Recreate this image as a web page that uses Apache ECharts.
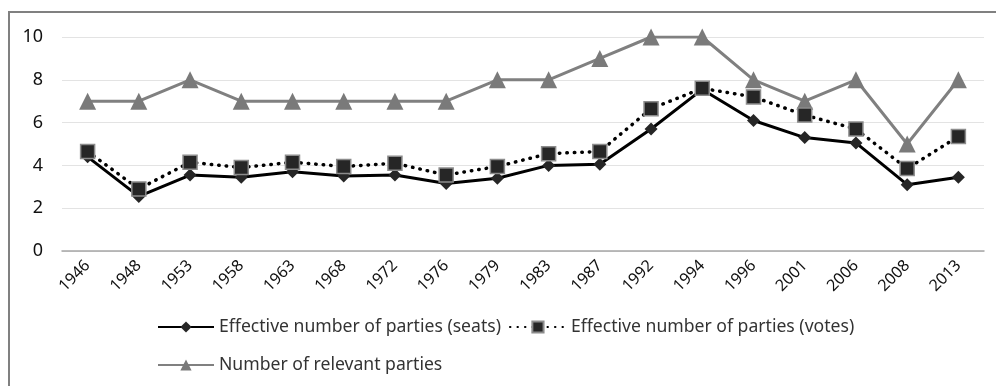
<!DOCTYPE html>
<html><head><meta charset="utf-8">
<script src="https://cdn.jsdelivr.net/npm/echarts@6/dist/echarts.min.js"></script>
<style>html,body{margin:0;padding:0;background:#fff}#c{width:996px;height:386px}</style>
</head><body><div id="c"></div>
<script>
const years = ['1946','1948','1953','1958','1963','1968','1972','1976','1979','1983','1987','1992','1994','1996','2001','2006','2008','2013'];
const seats = [4.4,2.55,3.55,3.45,3.7,3.5,3.55,3.15,3.4,4.0,4.05,5.7,7.55,6.1,5.3,5.05,3.1,3.45];
const votes = [4.65,2.9,4.15,3.9,4.15,3.95,4.1,3.55,3.95,4.55,4.65,6.65,7.6,7.2,6.35,5.7,3.85,5.35];
const relevant = [7,7,8,7,7,7,7,7,8,8,9,10,10,8,7,8,5,8];
const yTicks = {min:0,max:10,interval:2};
const names = ['Effective number of parties (seats)','Effective number of parties (votes)','Number of relevant parties'];

const font = "'Noto Sans', sans-serif";
const chart = echarts.init(document.getElementById('c'));
chart.setOption({
  animation:false,
  textStyle:{fontFamily:font},
  graphic:[{type:'rect',shape:{x:9,y:12,width:1100,height:500},style:{fill:null,stroke:'#808080',lineWidth:2}}],
  grid:{left:62,right:12,top:37,bottom:135},
  legend:[
    {data:[names[0],names[1]],left:152,top:313,itemWidth:56,itemHeight:14,itemGap:8,
     textStyle:{fontFamily:font,fontSize:17.6,color:'#333'}},
    {data:[names[2]],left:152,top:351,itemWidth:56,itemHeight:14,
     textStyle:{fontFamily:font,fontSize:17.6,color:'#333'}}
  ],
  xAxis:{type:'category',data:years,boundaryGap:true,
    axisLine:{lineStyle:{color:'#a6a6a6',width:1.5}},axisTick:{show:false},
    axisLabel:{rotate:45,fontSize:16,color:'#111',margin:12,interval:0,fontFamily:font}},
  yAxis:{type:'value',min:yTicks.min,max:yTicks.max,interval:yTicks.interval,
    axisLine:{show:false},axisTick:{show:false},
    axisLabel:{fontSize:18,color:'#111',margin:19,fontFamily:font},
    splitLine:{lineStyle:{color:'#e3e3e3',width:1}}},
  series:[
    {name:names[0],type:'line',data:seats,symbol:'diamond',symbolSize:13,
     lineStyle:{color:'#000',width:3},itemStyle:{color:'#262626'},z:3},
    {name:names[1],type:'line',data:votes,symbol:'rect',symbolSize:14,
     lineStyle:{color:'#000',width:3.5,type:[0.5,7],cap:'round'},itemStyle:{color:'#262626',borderColor:'#8c8c8c',borderWidth:1.5},z:4},
    {name:names[2],type:'line',data:relevant,symbol:'triangle',symbolSize:17,
     lineStyle:{color:'#808080',width:3},itemStyle:{color:'#7a7a7a'},z:2}
  ]
});
</script></body></html>
